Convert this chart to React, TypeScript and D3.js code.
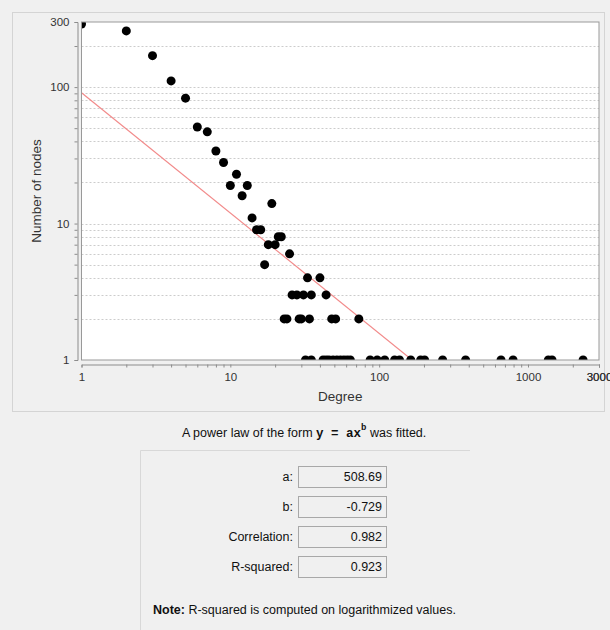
import React, { useEffect, useRef } from "react";
import * as d3 from "d3";

// degree distribution
const degrees = [
  1, 2, 3, 4, 5, 6, 7, 8, 9, 10, 11, 12, 13, 14, 15, 16, 17, 18, 19, 20, 21, 22, 25,
  33, 40,
  26, 28, 31, 35, 44,
  23, 24, 29, 30, 34, 48, 51, 73,
  32, 35, 42, 44, 46, 49, 52, 55, 58, 61, 64, 87, 97, 109, 127, 137, 163, 190, 202,
  267, 381, 659, 794, 1370, 1450, 2345,
];
const nodeCounts = [
  290, 258, 170, 111, 83, 51, 47, 34, 28, 19, 23, 16, 19, 11, 9, 9, 5, 7, 14, 7, 8, 8, 6,
  4, 4,
  3, 3, 3, 3, 3,
  2, 2, 2, 2, 2, 2, 2, 2,
  1, 1, 1, 1, 1, 1, 1, 1, 1, 1, 1, 1, 1, 1, 1, 1, 1, 1, 1,
  1, 1, 1, 1, 1, 1, 1,
];

const xTickLabels = ["1", "10", "100", "1000", "3000"];
const yTickLabels = ["1", "10", "100", "300"];

// the red line as it is drawn in the plot
const lineA = 91;
const lineB = -0.882;

const fitLabels = ["a:", "b:", "Correlation:", "R-squared:"];
const fitValues = ["508.69", "-0.729", "0.982", "0.923"];

const W = 610;
const H = 630;
const plot = { left: 81.5, right: 599, top: 22, bottom: 360 };
const font = "'Liberation Sans', Arial, sans-serif";

export default function App() {
  const ref = useRef<SVGSVGElement>(null);

  useEffect(() => {
    const svg = d3.select(ref.current);
    svg.selectAll("*").remove();

    const x = d3.scaleLog().domain([1, 3000]).range([plot.left, plot.right]);
    const y = d3.scaleLog().domain([1, 300]).range([plot.bottom, plot.top]);

    svg.append("rect").attr("width", W).attr("height", H).attr("fill", "#f0f0f0");

    // outer panel
    svg
      .append("rect")
      .attr("x", 12.5)
      .attr("y", 12.5)
      .attr("width", 592)
      .attr("height", 399)
      .attr("fill", "#f0f0f0")
      .attr("stroke", "#d4d4d4");

    svg
      .append("rect")
      .attr("x", plot.left)
      .attr("y", plot.top)
      .attr("width", plot.right - plot.left)
      .attr("height", plot.bottom - plot.top)
      .attr("fill", "#fff");

    svg
      .append("defs")
      .append("clipPath")
      .attr("id", "plot-clip")
      .append("rect")
      .attr("x", plot.left)
      .attr("y", plot.top)
      .attr("width", plot.right - plot.left)
      .attr("height", plot.bottom - plot.top);

    const yTicks = y.ticks();
    const xTicks = x.ticks().concat([3000]);

    // grid
    svg
      .append("g")
      .selectAll("line")
      .data(yTicks.filter(d => d > 1 && d < 300))
      .enter()
      .append("line")
      .attr("x1", plot.left)
      .attr("x2", plot.right)
      .attr("y1", d => Math.round(y(d)) + 0.5)
      .attr("y2", d => Math.round(y(d)) + 0.5)
      .attr("stroke", "#cccccc")
      .attr("stroke-dasharray", "2,2");

    const body = svg.append("g").attr("clip-path", "url(#plot-clip)");

    const lineDegrees = [1, 3000];
    const lineGen = d3
      .line<number>()
      .x(d => x(d))
      .y(d => y(lineA * Math.pow(d, lineB)));
    body
      .append("path")
      .attr("d", lineGen(lineDegrees))
      .attr("fill", "none")
      .attr("stroke", "#f28b8b")
      .attr("stroke-width", 1.2);

    body
      .selectAll("circle")
      .data(degrees)
      .enter()
      .append("circle")
      .attr("cx", d => x(d))
      .attr("cy", (d, i) => y(nodeCounts[i]))
      .attr("r", 4.5)
      .attr("fill", "#000");

    svg
      .append("rect")
      .attr("x", plot.left)
      .attr("y", plot.top)
      .attr("width", plot.right - plot.left)
      .attr("height", plot.bottom - plot.top)
      .attr("fill", "none")
      .attr("stroke", "#999");

    // axes
    const xAxis = d3
      .axisBottom(x)
      .tickValues(xTicks)
      .tickFormat(d => (xTickLabels.includes(String(d)) ? String(d) : ""))
      .tickSizeOuter(0)
      .tickSize(3)
      .tickPadding(5);
    const gx = svg.append("g").attr("transform", "translate(0,364.5)").call(xAxis);

    const yAxis = d3
      .axisLeft(y)
      .tickValues(yTicks)
      .tickFormat(d => (yTickLabels.includes(String(d)) ? String(d) : ""))
      .tickSizeOuter(0)
      .tickSize(3)
      .tickPadding(5);
    const gy = svg.append("g").attr("transform", "translate(77.5,0)").call(yAxis);

    [gx, gy].forEach(g => {
      g.select(".domain").attr("stroke", "#8c8c8c");
      g.selectAll(".tick line").attr("stroke", "#8c8c8c");
      g.selectAll("text")
        .attr("fill", "#333")
        .attr("font-family", font)
        .attr("font-size", 11.5);
    });

    svg
      .append("text")
      .attr("transform", "translate(41," + (plot.top + plot.bottom) / 2 + ") rotate(-90)")
      .attr("text-anchor", "middle")
      .attr("font-family", font)
      .attr("font-size", 13.5)
      .attr("fill", "#333")
      .text("Number of nodes");

    svg
      .append("text")
      .attr("x", (plot.left + plot.right) / 2)
      .attr("y", 401)
      .attr("text-anchor", "middle")
      .attr("font-family", font)
      .attr("font-size", 13.5)
      .attr("fill", "#333")
      .text("Degree");

    // fitted form caption
    const mono = "'Liberation Mono', 'DejaVu Sans Mono', monospace";
    const cap = svg
      .append("text")
      .attr("x", 182)
      .attr("y", 437)
      .attr("font-family", font)
      .attr("font-size", 12.5)
      .attr("fill", "#111");
    cap.append("tspan").text("A power law of the form ");
    cap.append("tspan").attr("font-family", mono).attr("font-weight", "bold").text("y = ax");
    cap
      .append("tspan")
      .attr("font-family", mono)
      .attr("font-weight", "bold")
      .attr("font-size", 9)
      .attr("dy", -7)
      .text("b");
    cap.append("tspan").attr("dy", 7).text(" was fitted.");

    // parameter box
    svg
      .append("path")
      .attr("d", "M140.5,630V450.5H470")
      .attr("fill", "none")
      .attr("stroke", "#d8d8d8");

    const rows = svg
      .append("g")
      .selectAll("g")
      .data(fitLabels)
      .enter()
      .append("g")
      .attr("transform", (d, i) => "translate(0," + (466 + i * 30) + ")");

    rows
      .append("rect")
      .attr("x", 298.5)
      .attr("y", 0.5)
      .attr("width", 88)
      .attr("height", 21)
      .attr("fill", "#f0f0f0")
      .attr("stroke", "#a8a8a8");

    rows
      .append("text")
      .attr("x", 293)
      .attr("y", 15)
      .attr("text-anchor", "end")
      .attr("font-family", font)
      .attr("font-size", 12.5)
      .attr("fill", "#111")
      .text(d => d);

    rows
      .append("text")
      .attr("x", 382)
      .attr("y", 15)
      .attr("text-anchor", "end")
      .attr("font-family", font)
      .attr("font-size", 12.5)
      .attr("fill", "#111")
      .text((d, i) => fitValues[i]);

    const note = svg
      .append("text")
      .attr("x", 153)
      .attr("y", 614)
      .attr("font-family", font)
      .attr("font-size", 12.5)
      .attr("fill", "#111");
    note.append("tspan").attr("font-weight", "bold").text("Note:");
    note.append("tspan").text(" R-squared is computed on logarithmized values.");
  }, []);

  return (
    <div style={{ position: "absolute", left: 0, top: 0 }}>
      <svg ref={ref} width={W} height={H} style={{ display: "block" }} />
    </div>
  );
}
